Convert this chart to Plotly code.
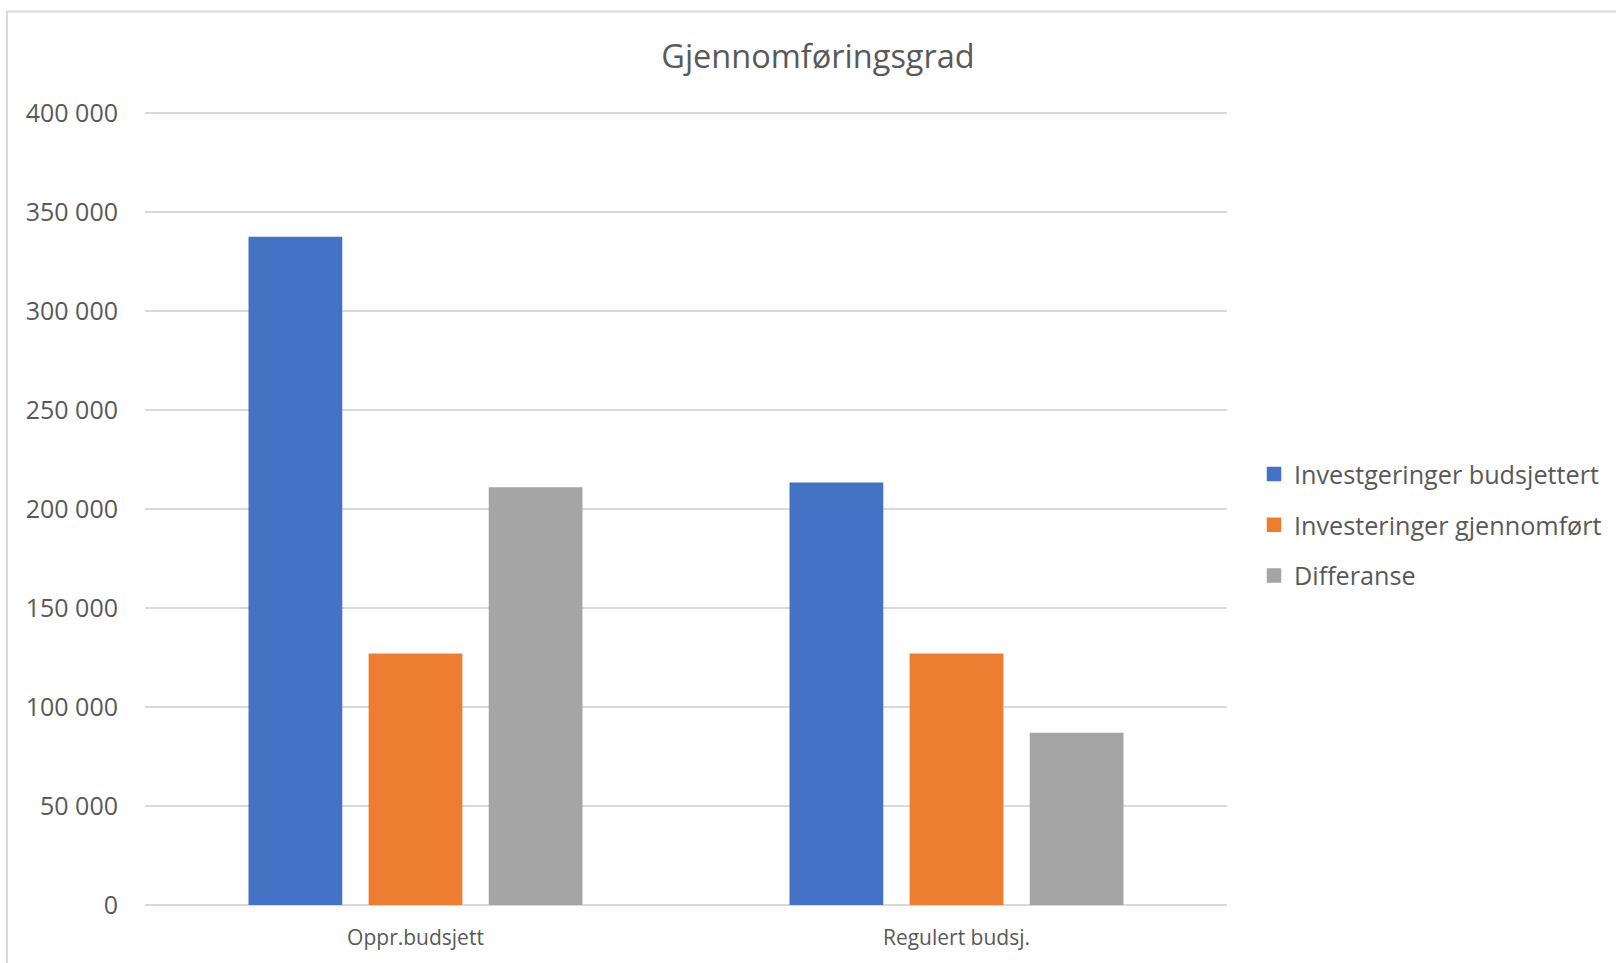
import plotly.graph_objects as go

categories = ["Oppr.budsjett", "Regulert budsj."]
series_names = ["Investgeringer budsjettert", "Investeringer gjennomført", "Differanse"]
budsjettert = [336800, 212700]
gjennomfort = [126400, 126400]
differanse = [210400, 86300]
series_values = [budsjettert, gjennomfort, differanse]
colors = ["#4472C4", "#ED7D31", "#A5A5A5"]
y_ticks = [0, 50000, 100000, 150000, 200000, 250000, 300000, 350000, 400000]
Y_MAX = 403000

FONT = "Open Sans"
TEXT = "#595959"

fig = go.Figure()
for name, vals, col in zip(series_names, series_values, colors):
    fig.add_trace(go.Bar(
        x=categories, y=vals, name=name, legendgroup=name,
        marker=dict(color=col, line=dict(color=col, width=2.5)),
    ))

W, H = 1616, 963
L, R, B = 145, 1227, 905
T = B - (B - 112.5) * Y_MAX / 400000
pw, ph = R - L, B - T

def px_x(x):
    return (x - L) / pw

def px_y(y):
    return (B - y) / ph

fig.update_layout(
    width=W, height=H,
    margin=dict(l=L, r=W - R, t=T, b=H - B, pad=0, autoexpand=False),
    paper_bgcolor="white", plot_bgcolor="white",
    separators=", ",
    barmode="group", bargap=0.334, bargroupgap=0.24,
    font=dict(family=FONT, color=TEXT),
    title=dict(text="Gjennomføringsgrad", x=818 / W, xref="container", xanchor="center",
               y=1 - 57 / H, yref="container", yanchor="middle",
               font=dict(size=32.5, color=TEXT, family=FONT)),
    legend=dict(x=px_x(1254), xanchor="left", y=px_y(525), yanchor="middle",
                font=dict(size=25.2, color=TEXT, family=FONT),
                tracegroupgap=15, bgcolor="rgba(0,0,0,0)", itemwidth=30),
    showlegend=True,
    xaxis=dict(showgrid=False, showline=False, zeroline=False, ticks="",
               tickfont=dict(size=21, color=TEXT, family=FONT), ticklabelstandoff=18),
    yaxis=dict(range=[0, Y_MAX], tickvals=y_ticks, tickformat=",d",
               showgrid=True, gridcolor="#D9D9D9", gridwidth=2,
               zeroline=True, zerolinecolor="#D9D9D9", zerolinewidth=2,
               showline=False, ticks="",
               tickfont=dict(size=25, color=TEXT, family=FONT), ticklabelstandoff=26),
    shapes=[dict(type="rect", xref="paper", yref="paper",
                 x0=px_x(7), x1=px_x(1625), y0=px_y(975), y1=px_y(11),
                 line=dict(color="#D9D9D9", width=2), fillcolor="rgba(0,0,0,0)", layer="below")],
)

fig.write_html("out.html", config={"displayModeBar": False},
               post_script="document.body.style.margin='0';document.body.style.overflow='hidden';")
